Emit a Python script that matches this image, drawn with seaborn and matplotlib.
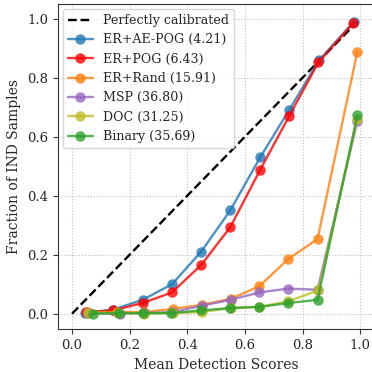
import matplotlib
matplotlib.use("Agg")
import matplotlib.pyplot as plt
import seaborn as sns
import pandas as pd

labels = ["ER+AE-POG (4.21)", "ER+POG (6.43)", "ER+Rand (15.91)",
          "MSP (36.80)", "DOC (31.25)", "Binary (35.69)"]
colors = ["tab:blue", "red", "tab:orange", "tab:purple", "tab:olive", "tab:green"]

x_aepog = [0.045, 0.143, 0.245, 0.347, 0.448, 0.549, 0.653, 0.753, 0.858, 0.978]
y_aepog = [0.003, 0.014, 0.047, 0.100, 0.210, 0.350, 0.530, 0.690, 0.860, 0.990]
x_pog = [0.050, 0.143, 0.245, 0.347, 0.448, 0.549, 0.653, 0.753, 0.855, 0.976]
y_pog = [0.005, 0.011, 0.036, 0.072, 0.165, 0.293, 0.488, 0.669, 0.852, 0.985]
x_rand = [0.055, 0.155, 0.250, 0.350, 0.450, 0.550, 0.650, 0.750, 0.852, 0.990]
y_rand = [0.006, 0.006, 0.005, 0.016, 0.030, 0.050, 0.093, 0.185, 0.253, 0.887]
x_msp = [0.055, 0.165, 0.250, 0.350, 0.450, 0.550, 0.650, 0.750, 0.852, 0.990]
y_msp = [0.002, 0.000, 0.002, 0.005, 0.027, 0.047, 0.072, 0.085, 0.081, 0.652]
x_doc = [0.057, 0.160, 0.250, 0.350, 0.450, 0.550, 0.650, 0.750, 0.855, 0.990]
y_doc = [0.003, 0.002, 0.000, 0.002, 0.006, 0.019, 0.023, 0.042, 0.079, 0.661]
x_bin = [0.074, 0.164, 0.245, 0.345, 0.448, 0.549, 0.650, 0.751, 0.852, 0.990]
y_bin = [0.000, 0.002, 0.002, 0.002, 0.011, 0.019, 0.023, 0.036, 0.047, 0.672]

diag = [0.0, 1.0]
xs = [x_aepog, x_pog, x_rand, x_msp, x_doc, x_bin]
ys = [y_aepog, y_pog, y_rand, y_msp, y_doc, y_bin]

sns.set_style("ticks")
plt.rcParams["font.family"] = ["DejaVu Serif"]
plt.rcParams["font.size"] = 9.5

fig = plt.figure(figsize=(3.72, 3.72), dpi=100)
ax = fig.add_axes([0.155, 0.1148, 0.852, 0.8745])

sns.lineplot(x=diag, y=diag, ax=ax, color="black", linestyle="--", linewidth=1.7,
             label="Perfectly calibrated")
for xv, yv, lab, c in zip(xs, ys, labels, colors):
    df = pd.DataFrame({"x": xv, "y": yv})
    sns.lineplot(data=df, x="x", y="y", ax=ax, color=c, marker="o", markersize=7.5,
                 markeredgewidth=0, linewidth=1.7, alpha=0.8, sort=False,
                 estimator=None, label=lab)

ax.set_xlim(-0.05, 1.05)
ax.set_ylim(-0.053, 1.05)
ax.set_xticks([0, 0.2, 0.4, 0.6, 0.8, 1.0])
ax.set_yticks([0, 0.2, 0.4, 0.6, 0.8, 1.0])
ax.grid(True, linestyle=":", color="#c0c0c0", linewidth=0.8)
ax.set_axisbelow(True)
for s in ax.spines.values():
    s.set_color("#333333")
ax.tick_params(labelsize=9.5, length=3.5, color="#333333")
ax.set_xlabel("Mean Detection Scores", fontsize=10, labelpad=4)
ax.set_ylabel("Fraction of IND Samples", fontsize=10, labelpad=4)
ax.legend(loc="upper left", fontsize=9.1, borderaxespad=0.4)

fig.savefig("out.png", dpi=100)
